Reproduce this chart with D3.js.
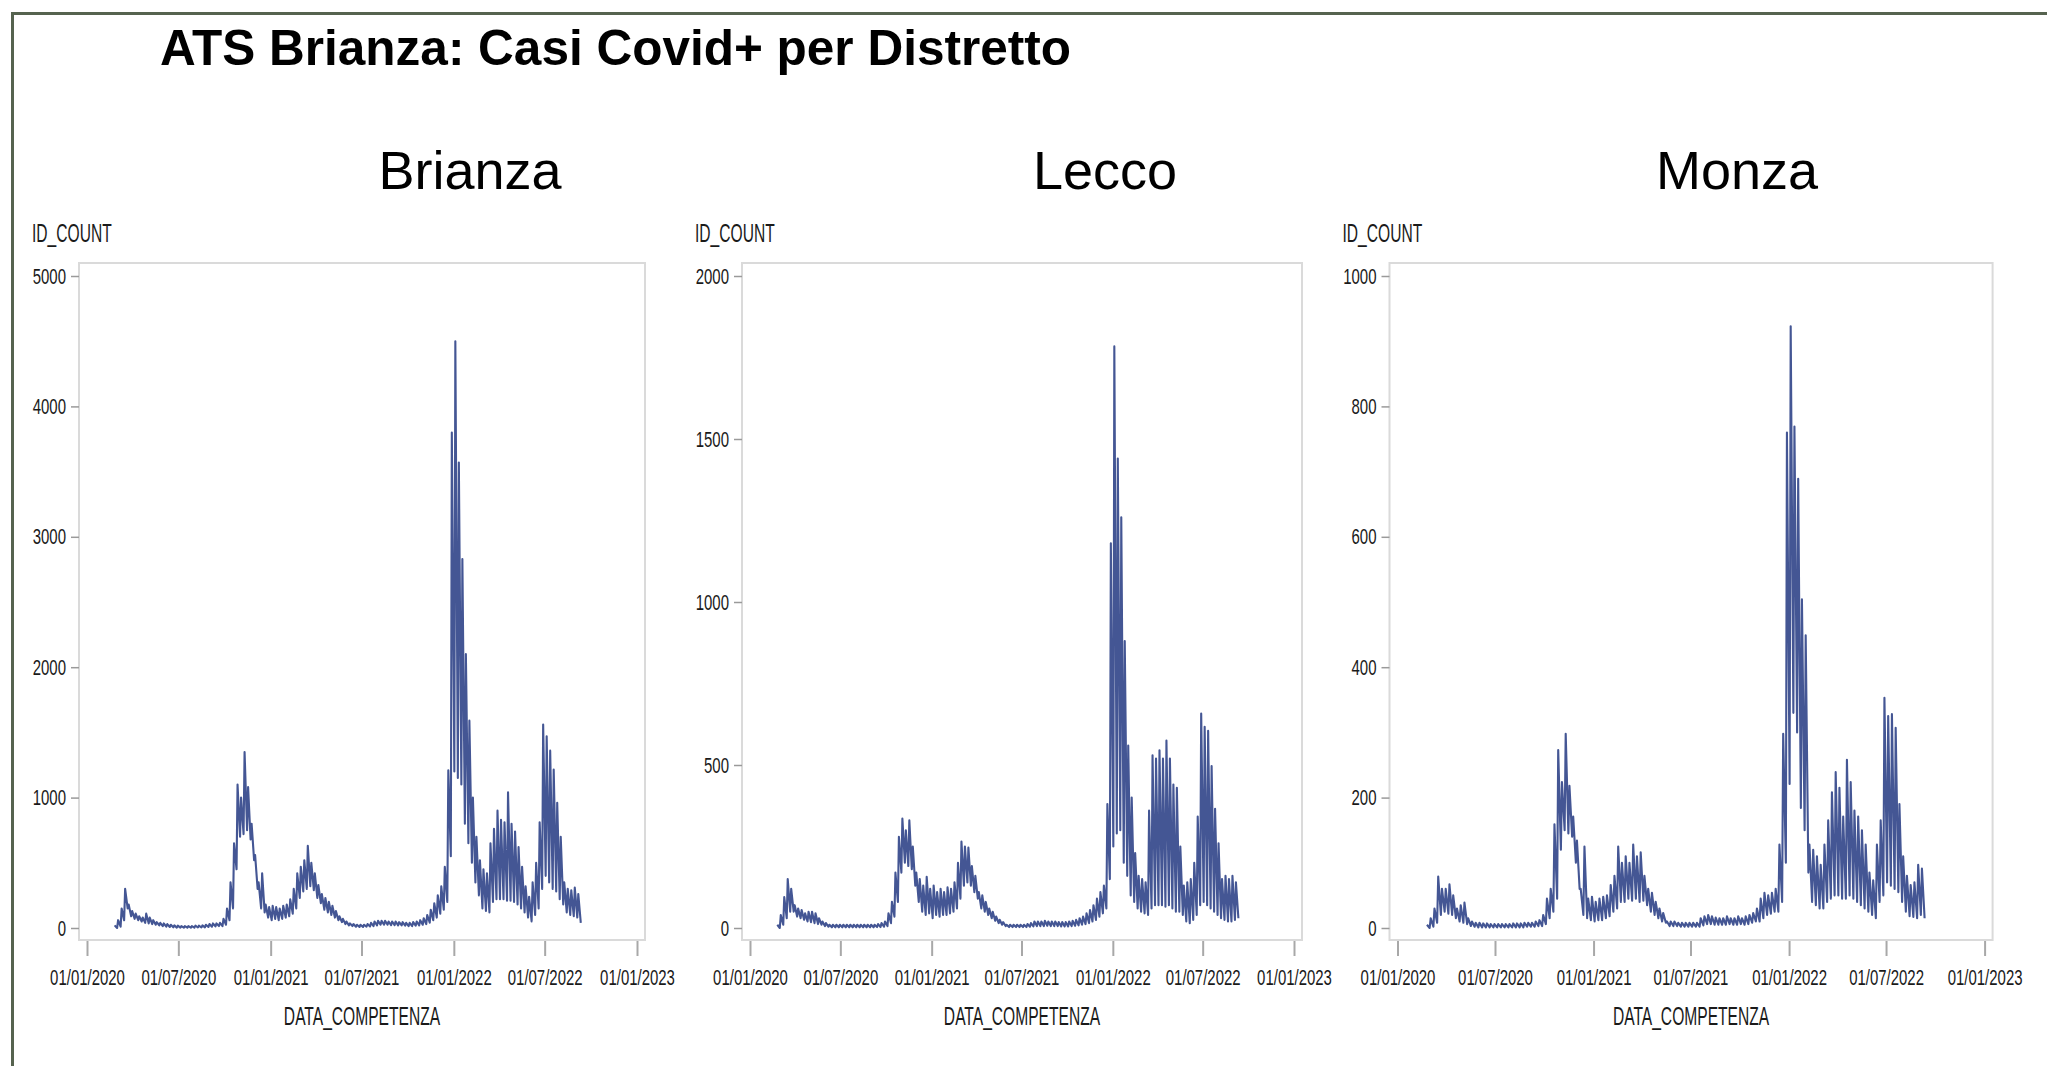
<!DOCTYPE html>
<html>
<head>
<meta charset="utf-8">
<script src="https://cdn.jsdelivr.net/npm/d3@7"></script>
<style>
	body { margin: 0; background: #fff; }
	svg text { font-family: "Liberation Sans", Arial, sans-serif; }
</style>
</head>
<body>
<svg id="mainsvg" width="2047" height="1066"></svg>
<script>
// monday of the first week in the series
var weekStart = "2020-02-24";

var chartTitle = "ATS Brianza: Casi Covid+ per Distretto";
var districts = ["Brianza", "Lecco", "Monza"];

// weekly high (weekday) and low (weekend) counts
var brianzaHi = [20, 60, 150, 300, 180, 130, 110, 90, 80, 110, 80, 60, 45,
	40, 35, 30, 25, 20, 18, 15, 15, 15, 15, 18, 18,
	20, 25, 30, 35, 35, 40, 70, 150, 350, 650,
	1100, 1000, 1350, 1080, 800, 560, 350, 420, 180, 160,
	170, 160, 150, 170, 180, 220, 300, 420, 470, 520,
	630, 500, 420, 330, 260, 230, 200, 170, 130, 90,
	70, 50, 35, 30, 25, 25, 25, 30, 40, 50,
	55, 55, 55, 50, 50, 50, 45, 45, 40, 40,
	45, 50, 60, 75, 100, 140, 190, 250, 320, 470,
	1210, 3800, 4500, 3570, 2830, 2100, 1590, 1000, 700, 520,
	450, 420, 650, 760, 900, 830, 810, 1040, 800, 740,
	620, 470, 320, 240, 350, 500, 810, 1560, 1470, 1360,
	1215, 960, 700, 350, 300, 290, 310, 260];
var brianzaLo = [0, 10, 60, 150, 90, 70, 60, 50, 40, 35, 30, 25, 20,
	15, 10, 8, 5, 3, 3, 3, 3, 3, 3, 4, 4,
	5, 8, 10, 12, 15, 15, 25, 60, 150, 450,
	700, 720, 750, 680, 520, 300, 150, 120, 80, 60,
	70, 60, 70, 80, 90, 110, 150, 230, 280, 300,
	320, 290, 230, 190, 140, 120, 100, 80, 60, 45,
	30, 20, 15, 10, 8, 8, 10, 12, 15, 20,
	25, 25, 25, 22, 22, 20, 20, 18, 15, 15,
	18, 20, 25, 30, 40, 60, 80, 110, 140, 200,
	550, 1200, 1150, 1100, 800, 650, 500, 350, 250, 150,
	130, 120, 200, 220, 220, 220, 210, 210, 200, 180,
	150, 120, 80, 50, 100, 150, 300, 400, 350, 300,
	280, 220, 180, 120, 100, 90, 80, 40];

var leccoHi = [10, 40, 95, 150, 120, 70, 60, 55, 45, 50, 50, 45, 30,
	20, 15, 10, 10, 10, 10, 10, 10, 10, 10, 10, 10,
	10, 10, 10, 10, 12, 15, 20, 45, 80, 170,
	280, 336, 300, 330, 250, 170, 150, 130, 157, 120,
	130, 110, 120, 110, 125, 120, 140, 200, 265, 250,
	247, 190, 160, 110, 100, 80, 60, 50, 35, 25,
	18, 10, 10, 10, 10, 10, 10, 12, 15, 20,
	20, 20, 22, 20, 20, 20, 18, 18, 18, 20,
	22, 25, 30, 35, 45, 55, 70, 90, 110, 130,
	380, 1180, 1784, 1440, 1260, 880, 560, 400, 230, 160,
	150, 140, 360, 530, 520, 545, 520, 575, 520, 440,
	430, 250, 130, 140, 150, 200, 342, 658, 617, 605,
	497, 366, 260, 150, 160, 150, 160, 140];
var leccoLo = [0, 10, 30, 50, 50, 35, 30, 25, 20, 18, 15, 12, 10,
	6, 4, 2, 2, 2, 2, 2, 2, 2, 2, 2, 2,
	2, 2, 2, 3, 3, 4, 6, 15, 35, 80,
	170, 200, 190, 180, 130, 80, 50, 40, 45, 30,
	40, 35, 40, 40, 45, 50, 60, 90, 130, 140,
	130, 110, 90, 60, 50, 40, 30, 22, 15, 10,
	6, 3, 3, 3, 3, 3, 3, 4, 5, 6,
	6, 6, 7, 6, 6, 6, 5, 5, 5, 6,
	7, 8, 10, 12, 15, 20, 25, 35, 45, 60,
	150, 250, 290, 300, 200, 160, 100, 80, 60, 50,
	45, 40, 60, 70, 70, 70, 65, 70, 60, 50,
	50, 40, 20, 15, 25, 40, 70, 80, 70, 60,
	50, 40, 30, 25, 20, 20, 25, 30];

var monzaHi = [5, 15, 30, 79, 60, 60, 67, 50, 30, 35, 39, 15, 10,
	8, 8, 7, 7, 6, 6, 6, 6, 6, 6, 7, 7,
	7, 8, 8, 8, 10, 12, 20, 45, 60, 159,
	273, 224, 298, 218, 171, 134, 60, 125, 45, 48,
	40, 45, 48, 50, 66, 80, 125, 100, 110, 100,
	128, 110, 116, 80, 60, 54, 40, 30, 23, 10,
	10, 10, 8, 8, 8, 8, 8, 8, 15, 18,
	20, 18, 16, 15, 15, 18, 15, 15, 18, 15,
	18, 20, 23, 30, 45, 54, 50, 54, 60, 128,
	298, 760, 923, 769, 689, 504, 449, 128, 120, 110,
	97, 128, 165, 208, 239, 215, 171, 258, 224, 180,
	171, 150, 128, 85, 73, 128, 165, 353, 325, 328,
	307, 190, 110, 80, 66, 70, 97, 91];
var monzaLo = [0, 2, 8, 20, 25, 22, 20, 15, 10, 8, 6, 3, 2,
	1, 1, 1, 1, 1, 1, 1, 1, 1, 1, 1, 1,
	1, 2, 2, 2, 3, 3, 6, 15, 25, 45,
	120, 150, 145, 140, 100, 60, 20, 15, 12, 10,
	12, 12, 15, 18, 25, 30, 40, 40, 45, 42,
	45, 40, 42, 35, 25, 20, 15, 10, 8, 3,
	3, 3, 2, 2, 2, 2, 2, 2, 4, 6,
	6, 5, 5, 5, 5, 6, 5, 5, 6, 5,
	6, 8, 10, 10, 15, 20, 22, 25, 25, 40,
	100, 221, 330, 300, 184, 150, 85, 40, 35, 30,
	30, 40, 45, 50, 50, 45, 45, 50, 45, 40,
	35, 30, 25, 20, 15, 40, 50, 70, 65, 60,
	55, 40, 25, 18, 17, 15, 20, 15];

var yMax = [5000, 2000, 1000];
var yTicks = [
	[0, 1000, 2000, 3000, 4000, 5000],
	[0, 500, 1000, 1500, 2000],
	[0, 200, 400, 600, 800, 1000]
];
var xTickLabels = ["01/01/2020", "01/07/2020", "01/01/2021", "01/07/2021", "01/01/2022", "01/07/2022", "01/01/2023"];
var yLabel = "ID_COUNT";
var xLabel = "DATA_COMPETENZA";

var seriesHi = [brianzaHi, leccoHi, monzaHi];
var seriesLo = [brianzaLo, leccoLo, monzaLo];

// layout
var frameLeft = [79, 742, 1389.5];
var frameRight = [645, 1302, 1992.6];
var frameTop = 263, frameBottom = 940;
var titleCenter = [470, 1105, 1737];
var lineColor = "#445694";
var tickK = 0.68, labelK = 0.6; // horizontal squeeze, the source uses a narrow face

var svg = d3.select("#mainsvg");
var parseDay = d3.timeParse("%d/%m/%Y");
var fmtDay = d3.timeFormat("%d/%m/%Y");
var t0 = d3.timeParse("%Y-%m-%d")(weekStart);

svg.append("rect")
	.attr("width", 2047).attr("height", 1066)
	.attr("fill", "#fff");

// outer border
svg.append("rect")
	.attr("x", 12.5).attr("y", 13.5)
	.attr("width", 2100).attr("height", 1100)
	.attr("fill", "none")
	.attr("stroke", "#56634f")
	.attr("stroke-width", 3);

svg.append("text")
	.attr("x", 160).attr("y", 65)
	.attr("font-size", 49.5)
	.attr("font-weight", "bold")
	.attr("fill", "#000")
	.text(chartTitle);

districts.forEach(function(name, i) {
	var g = svg.append("g").attr("class", "panel");

	var x = d3.scaleTime()
		.domain([parseDay(xTickLabels[0]), parseDay(xTickLabels[xTickLabels.length - 1])])
		.range([frameLeft[i] + 8, frameRight[i] - 8]);
	var y = d3.scaleLinear()
		.domain([0, yMax[i]])
		.range([928, 276]);

	g.append("text")
		.attr("x", titleCenter[i]).attr("y", 189)
		.attr("text-anchor", "middle")
		.attr("font-size", 54)
		.attr("fill", "#000")
		.text(name);

	// plot wall
	g.append("rect")
		.attr("x", frameLeft[i]).attr("y", frameTop)
		.attr("width", frameRight[i] - frameLeft[i])
		.attr("height", frameBottom - frameTop)
		.attr("fill", "none")
		.attr("stroke", "#dadada")
		.attr("stroke-width", 2);

	var yAxis = g.append("g")
		.attr("transform", "translate(" + frameLeft[i] + ",0)")
		.call(d3.axisLeft(y).tickValues(yTicks[i]).tickSize(8).tickPadding(5).tickFormat(d3.format("d")));
	yAxis.select(".domain").remove();
	yAxis.selectAll(".tick line").attr("stroke", "#9a9a9a").attr("stroke-width", 1.5);
	yAxis.selectAll(".tick text")
		.attr("font-size", 22)
		.attr("font-family", "Liberation Sans, Arial, sans-serif")
		.attr("fill", "#1a1a1a")
		.attr("x", -13 / tickK)
		.attr("transform", "scale(" + tickK + ",1)");

	var xAxis = g.append("g")
		.attr("transform", "translate(0," + (frameBottom + 1) + ")")
		.call(d3.axisBottom(x)
			.tickValues(xTickLabels.map(parseDay))
			.tickSize(15).tickPadding(13)
			.tickFormat(fmtDay));
	xAxis.select(".domain").remove();
	xAxis.selectAll(".tick line").attr("stroke", "#a8a8a8").attr("stroke-width", 2);
	xAxis.selectAll(".tick text")
		.attr("font-size", 22)
		.attr("font-family", "Liberation Sans, Arial, sans-serif")
		.attr("fill", "#1a1a1a")
		.attr("transform", "scale(" + tickK + ",1)");

	g.append("text")
		.attr("transform", "translate(" + (frameLeft[i] - 47) + ",242) scale(" + labelK + ",1)")
		.attr("font-size", 26)
		.attr("fill", "#1a1a1a")
		.text(yLabel);

	g.append("text")
		.attr("transform", "translate(" + ((x.range()[0] + x.range()[1]) / 2) + ",1025) scale(" + labelK + ",1)")
		.attr("text-anchor", "middle")
		.attr("font-size", 26)
		.attr("fill", "#1a1a1a")
		.text(xLabel);

	// two points a week: weekday high, weekend low
	var pts = [];
	seriesHi[i].forEach(function(h, w) {
		pts.push({ date: d3.timeDay.offset(t0, 7 * w + 1), v: h });
		pts.push({ date: d3.timeDay.offset(t0, 7 * w + 6), v: seriesLo[i][w] });
	});

	var line = d3.line()
		.x(function(d) { return x(d.date); })
		.y(function(d) { return y(d.v); });

	g.append("path")
		.datum(pts)
		.attr("d", line)
		.attr("fill", "none")
		.attr("stroke", lineColor)
		.attr("stroke-width", 2.1)
		.attr("stroke-linejoin", "round");
});
</script>
</body>
</html>
